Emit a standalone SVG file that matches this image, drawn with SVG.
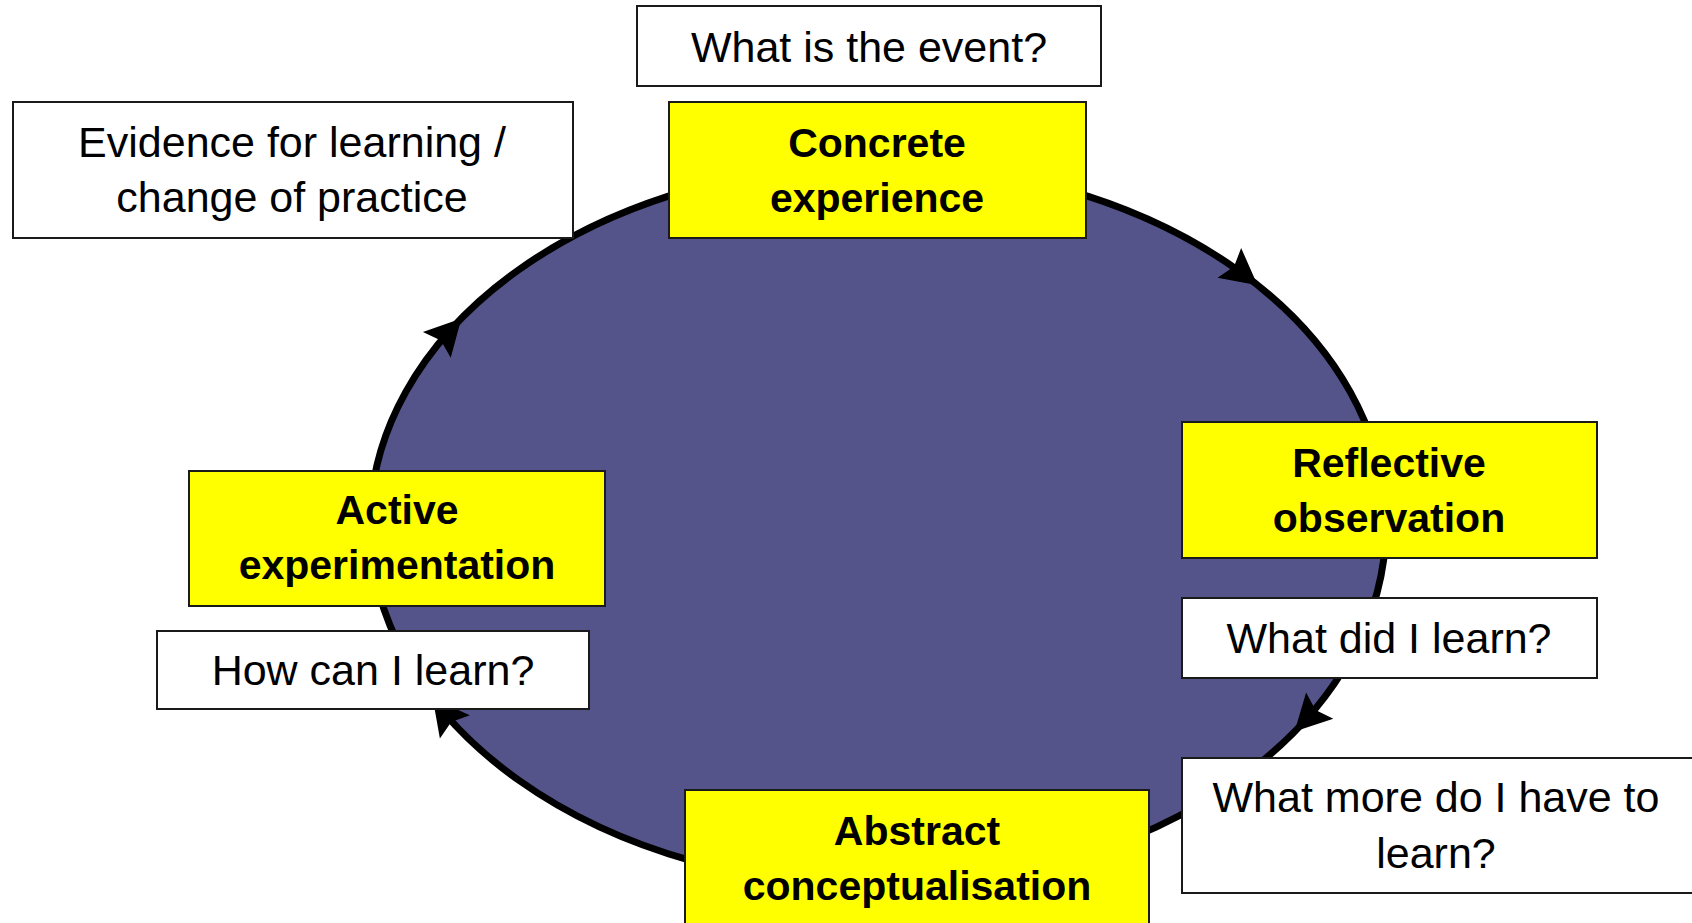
<svg xmlns="http://www.w3.org/2000/svg" xmlns:xlink="http://www.w3.org/1999/xlink" width="1692" height="923" viewBox="0 0 1692 923">
<style>
.box{fill:#ffffff;stroke:#1a1a1a;stroke-width:2}
.stage{fill:#ffff00;stroke:#1a1a1a;stroke-width:2}
.q{font-family:"Liberation Sans",Arial,sans-serif;font-size:43px;fill:#000;text-anchor:middle}
.s{font-family:"Liberation Sans",Arial,sans-serif;font-size:41px;font-weight:bold;fill:#000;text-anchor:middle}
.ring{fill:#54548a;stroke:#000;stroke-width:7}
</style>
<defs>
<path id="ah" d="M2,0 L-34,-19 L-28,0 L-34,19 Z" fill="#000"/>
</defs>
<rect width="1692" height="923" fill="#ffffff"/>
<g id="connectors">
<ellipse class="ring" cx="878" cy="525" rx="508" ry="361"/>
<use xlink:href="#ah" transform="translate(1256,284) rotate(38.4)"/>
<use xlink:href="#ah" transform="translate(1296,730) rotate(134.2)"/>
<use xlink:href="#ah" transform="translate(434,700) rotate(-127.9)"/>
<use xlink:href="#ah" transform="translate(460,320) rotate(-47)"/>
</g>
<g id="q-event">
<rect class="box" x="637" y="6" width="464" height="80"/>
<text class="q" x="869" y="62">What is the event?</text>
</g>
<g id="q-evidence">
<rect class="box" x="13" y="102" width="560" height="136"/>
<text class="q" x="292" y="157">Evidence for learning /</text>
<text class="q" x="292" y="212">change of practice</text>
</g>
<g id="concrete">
<rect class="stage" x="669" y="102" width="417" height="136"/>
<text class="s" x="877" y="157">Concrete</text>
<text class="s" x="877" y="212">experience</text>
</g>
<g id="reflective">
<rect class="stage" x="1182" y="422" width="415" height="136"/>
<text class="s" x="1389" y="477">Reflective</text>
<text class="s" x="1389" y="532">observation</text>
</g>
<g id="q-did">
<rect class="box" x="1182" y="598" width="415" height="80"/>
<text class="q" x="1389" y="653">What did I learn?</text>
</g>
<g id="q-more">
<rect class="box" x="1182" y="758" width="512" height="135"/>
<text class="q" x="1436" y="812">What more do I have to</text>
<text class="q" x="1436" y="868">learn?</text>
</g>
<g id="abstract">
<rect class="stage" x="685" y="790" width="464" height="140"/>
<text class="s" x="917" y="845">Abstract</text>
<text class="s" x="917" y="900">conceptualisation</text>
</g>
<g id="active">
<rect class="stage" x="189" y="471" width="416" height="135"/>
<text class="s" x="397" y="524">Active</text>
<text class="s" x="397" y="579">experimentation</text>
</g>
<g id="q-how">
<rect class="box" x="157" y="631" width="432" height="78"/>
<text class="q" x="373" y="685">How can I learn?</text>
</g>
</svg>
